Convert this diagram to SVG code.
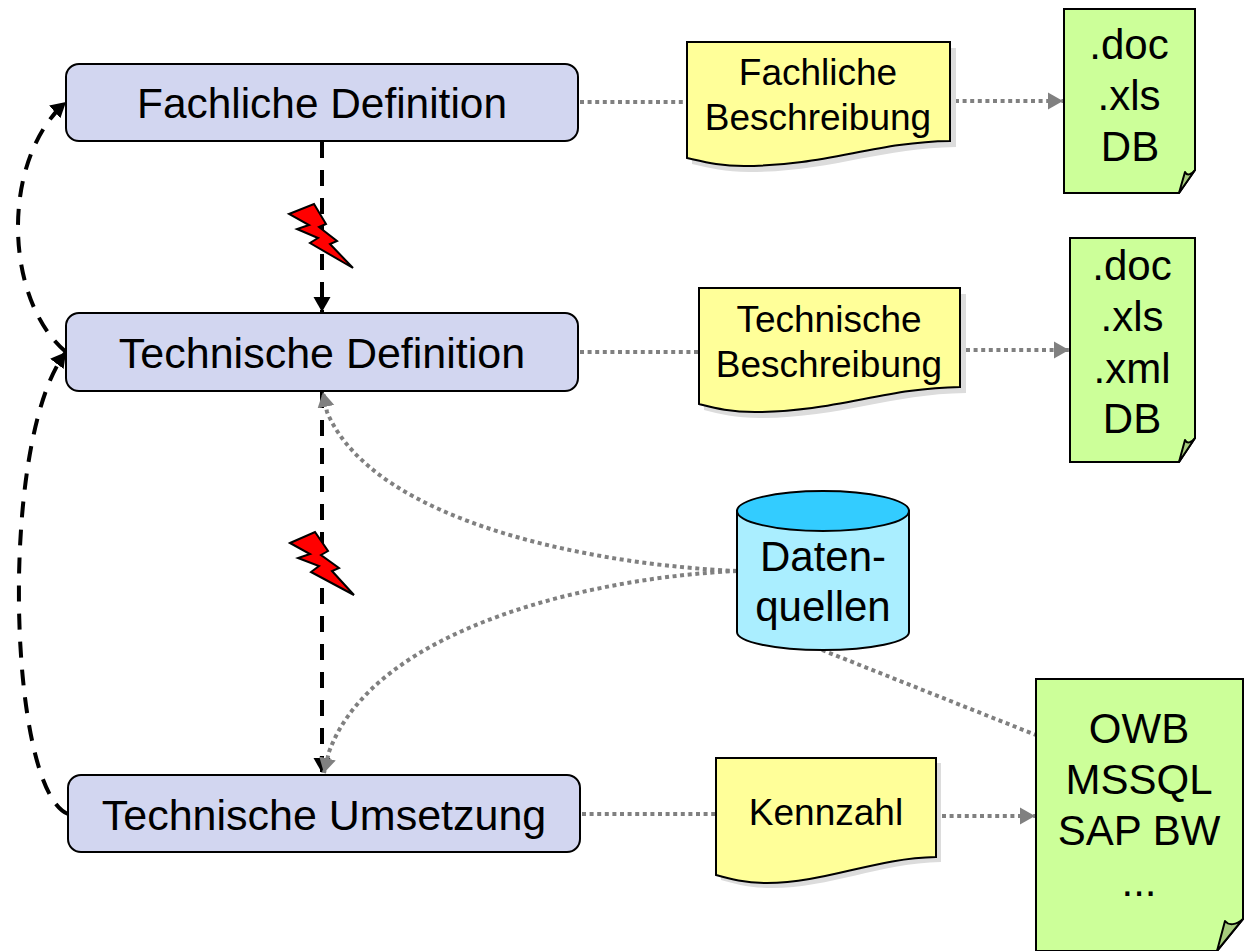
<svg xmlns="http://www.w3.org/2000/svg" width="1246" height="951" viewBox="0 0 1246 951">
<style>
text{font-family:"Liberation Sans",Arial,sans-serif;fill:#000;text-anchor:middle}
.big{font-size:42px}.mid{font-size:37px}.node{font-size:43px}
.box{fill:#d2d6f0;stroke:#000;stroke-width:2}
.note{fill:#ffff99;stroke:#000;stroke-width:2}
.shadow{fill:#dcdcdc}
.doc{fill:#ccff99;stroke:#000;stroke-width:2}
.fold{fill:#a6cc7c;stroke:#000;stroke-width:2;stroke-linejoin:round}
.bolt{fill:#ff0000;stroke:#000;stroke-width:2;stroke-linejoin:miter}
.dash{fill:none;stroke:#000;stroke-width:4;stroke-dasharray:16 12}
.dot{fill:none;stroke:#808080;stroke-width:4;stroke-dasharray:4 3.6}
</style>
<defs>
<marker id="ab" markerUnits="userSpaceOnUse" markerWidth="16" markerHeight="18" refX="15" refY="9" orient="auto"><path d="M0,0.5L15,9L0,17.5z" fill="#000"/></marker>
<marker id="ag" markerUnits="userSpaceOnUse" markerWidth="16" markerHeight="18" refX="15" refY="9" orient="auto"><path d="M0,0.5L15,9L0,17.5z" fill="#808080"/></marker>
</defs>
<g id="connectors">
<path class="dash" d="M322,142V312" marker-end="url(#ab)"/>
<path class="dash" d="M322,392V773" marker-end="url(#ab)"/>
<path class="dash" d="M66,352C4,300 0,160 66,102" marker-end="url(#ab)"/>
<path class="dash" d="M68,814C8,790 -2,440 66,352" marker-end="url(#ab)"/>
<path class="dot" d="M737,571C600,565 375,525 327,412L323,392" marker-end="url(#ag)"/>
<path class="dot" d="M737,571C600,577 375,625 329,752L324,773" marker-end="url(#ag)"/>
<path class="dot" d="M822,650L1036,735"/>
<path class="dot" d="M580,102H687"/>
<path class="dot" d="M955,101H1063" marker-end="url(#ag)"/>
<path class="dot" d="M580,352H699"/>
<path class="dot" d="M966,350H1069" marker-end="url(#ag)"/>
<path class="dot" d="M582,814H716"/>
<path class="dot" d="M942,816H1035" marker-end="url(#ag)"/>
</g>
<g id="fachliche-definition"><rect class="box" x="66" y="64" width="512" height="77" rx="13"/><text class="node" style="font-size:42.4px" x="322" y="118">Fachliche Definition</text></g>
<g id="technische-definition"><rect class="box" x="66" y="313" width="512" height="78" rx="13"/><text class="node" x="322" y="368">Technische Definition</text></g>
<g id="technische-umsetzung"><rect class="box" x="68" y="775" width="512" height="77" rx="13"/><text class="node" x="324" y="830">Technische Umsetzung</text></g>
<g id="bolt-1"><path class="bolt" d="M289,214L314,204L326,224L319,227L337,241L330,244L353,268L310,243L318,238L297,229L309,225z"/></g>
<g id="bolt-2"><path class="bolt" d="M290,543L315,532L328,551L321,555L339,568L332,571L354,595L311,572L319,566L298,558L310,554z"/></g>
<g id="fachliche-beschreibung">
<path class="shadow" d="M692,48H956V147C880,148 830,172 749,172C725,172 710,168 692,164z"/>
<path class="note" d="M687,42H950V141C875,142 825,166 744,166C720,166 705,162 687,158z"/>
<text class="mid" x="818" y="85">Fachliche</text><text class="mid" x="818" y="130">Beschreibung</text></g>
<g id="technische-beschreibung">
<path class="shadow" d="M704,294H966V393C890,394 840,418 760,418C735,418 720,414 704,410z"/>
<path class="note" d="M699,288H960V387C885,388 835,412 755,412C730,412 715,408 699,404z"/>
<text class="mid" x="829" y="332">Technische</text><text class="mid" x="829" y="377">Beschreibung</text></g>
<g id="kennzahl">
<path class="shadow" d="M721,763H941V862C880,863 830,888 772,888C750,888 735,884 721,880z"/>
<path class="note" d="M716,758H936V857C875,858 825,883 767,883C745,883 730,879 716,875z"/>
<text class="mid" x="826" y="825">Kennzahl</text></g>
<g id="dokument-1"><path class="doc" d="M1064,9H1195V170L1179,193H1064z"/><path class="fold" d="M1179,193L1185,172C1187,176 1191,175 1195,170z"/>
<text class="big" x="1129" y="59">.doc</text><text class="big" x="1129" y="110">.xls</text><text class="big" x="1130" y="161">DB</text></g>
<g id="dokument-2"><path class="doc" d="M1070,238H1195V438L1179,462H1070z"/><path class="fold" d="M1179,462L1185,440C1187,444 1191,443 1195,438z"/>
<text class="big" x="1132" y="280">.doc</text><text class="big" x="1132" y="331">.xls</text><text class="big" x="1132" y="383">.xml</text><text class="big" x="1132" y="433">DB</text></g>
<g id="datenquellen"><path d="M737,511V632C737,642 775,650 823,650C871,650 909,642 909,632V511z" fill="#aaeeff" stroke="#000" stroke-width="2"/><ellipse cx="823" cy="511" rx="86" ry="20" fill="#33ccff" stroke="#000" stroke-width="2"/>
<text class="big" x="823" y="571">Daten-</text><text class="big" x="823" y="621">quellen</text></g>
<g id="dokument-3"><path class="doc" d="M1036,679H1243V919L1217,951H1036z"/><path class="fold" d="M1217,951L1225,921C1229,926 1236,925 1243,919z"/>
<text class="big" x="1139" y="743">OWB</text><text class="big" x="1139" y="794">MSSQL</text><text class="big" x="1139" y="845">SAP BW</text><text class="big" x="1139" y="896">...</text></g>
</svg>
